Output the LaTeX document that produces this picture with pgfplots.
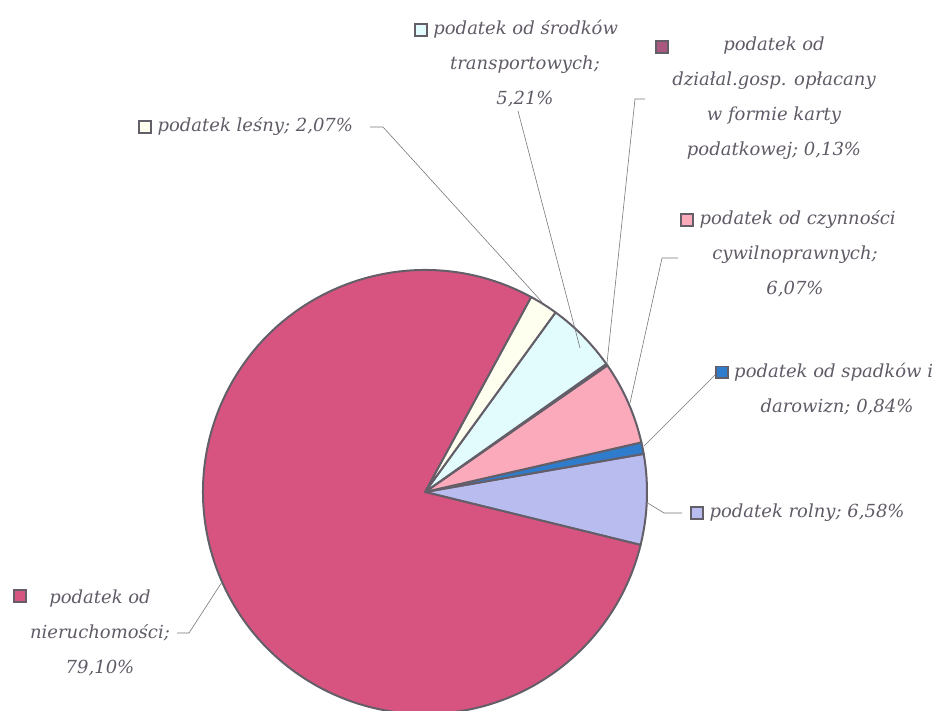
\documentclass[border=0pt]{standalone}
\usepackage{fontspec}
\setmainfont{DejaVu Serif}
\usepackage{pgfplots}
\pgfplotsset{compat=1.18}
\usepackage{pgfplotstable}
\definecolor{cnier}{RGB}{216,84,128}
\definecolor{clesny}{RGB}{255,255,240}
\definecolor{ctrans}{RGB}{226,251,252}
\definecolor{ckarta}{RGB}{170,88,128}
\definecolor{cczyn}{RGB}{250,170,186}
\definecolor{cspadki}{RGB}{48,124,204}
\definecolor{crolny}{RGB}{184,188,238}
\definecolor{edgegray}{RGB}{100,94,104}
\definecolor{txt}{RGB}{96,90,102}
\definecolor{leader}{RGB}{120,120,120}
\pgfplotstableread{
value col
6.58 crolny
0.84 cspadki
6.07 cczyn
0.13 ckarta
5.21 ctrans
2.07 clesny
79.10 cnier
}\piedata
\newcommand{\mk}[1]{{\setlength{\fboxsep}{0pt}\setlength{\fboxrule}{1.8pt}\fcolorbox{edgegray}{#1}{\rule{0pt}{10pt}\rule{10pt}{0pt}}}}
\begin{document}
\begin{tikzpicture}
\begin{axis}[
  scale only axis, width=936pt, height=711pt,
  xmin=0, xmax=936, ymin=0, ymax=711,
  hide axis, clip=false,
]
\xdef\pieangle{-13.8}
\pgfplotsinvokeforeach{0,...,6}{
  \pgfplotstablegetelem{#1}{value}\of\piedata \let\v\pgfplotsretval
  \pgfplotstablegetelem{#1}{col}\of\piedata \let\c\pgfplotsretval
  \pgfmathsetmacro\e{\pieangle+3.6*\v}
  \edef\tmp{\noexpand\filldraw[fill=\c, draw=edgegray, line width=2pt, line join=round] (axis cs:425,219) -- ++(\pieangle:222pt) arc[start angle=\pieangle, end angle=\e, radius=222pt] -- cycle;}
  \tmp
  \xdef\pieangle{\e}
}
% leader lines
\addplot[leader, line width=0.6pt] coordinates {(370,584) (383,584) (542,409)};
\addplot[leader, line width=0.6pt] coordinates {(518,600) (580,363)};
\addplot[leader, line width=0.6pt] coordinates {(645,612) (635,612) (607,348)};
\addplot[leader, line width=0.6pt] coordinates {(678,453) (662,453) (630,308)};
\addplot[leader, line width=0.6pt] coordinates {(716,337) (644,265)};
\addplot[leader, line width=0.6pt] coordinates {(646,209) (664,198) (682,198)};
\addplot[leader, line width=0.6pt] coordinates {(177,78) (189,78) (222,129)};
% labels
\begin{scope}[every node/.style={font=\fontsize{18}{35}\selectfont\itshape, text=txt, align=center, inner sep=0pt}]
\node[anchor=west] at (axis cs:138,584) {\mk{clesny} podatek leśny; 2,07\%};
\node at (axis cs:516,647) {\mk{ctrans} podatek od środków\\ \hspace*{18pt}transportowych;\\ \hspace*{18pt}5,21\%};
\node at (axis cs:662,664) {\mk{ckarta}};
\node at (axis cs:774,613) {podatek od\\ działal.gosp. opłacany\\ w formie karty\\ podatkowej; 0,13\%};
\node at (axis cs:788,457) {\mk{cczyn} podatek od czynności\\ \hspace*{14pt}cywilnoprawnych;\\ \hspace*{14pt}6,07\%};
\node at (axis cs:824,322) {\mk{cspadki} podatek od spadków i\\ \hspace*{26pt}darowizn; 0,84\%};
\node[anchor=west] at (axis cs:690,198) {\mk{crolny} podatek rolny; 6,58\%};
\node at (axis cs:20,115) {\mk{cnier}};
\node at (axis cs:100,78) {podatek od\\ nieruchomości;\\ 79,10\%};
\end{scope}
\end{axis}
\pgfresetboundingbox
\path (0,0) rectangle (936pt,711pt);
\end{tikzpicture}
\end{document}
